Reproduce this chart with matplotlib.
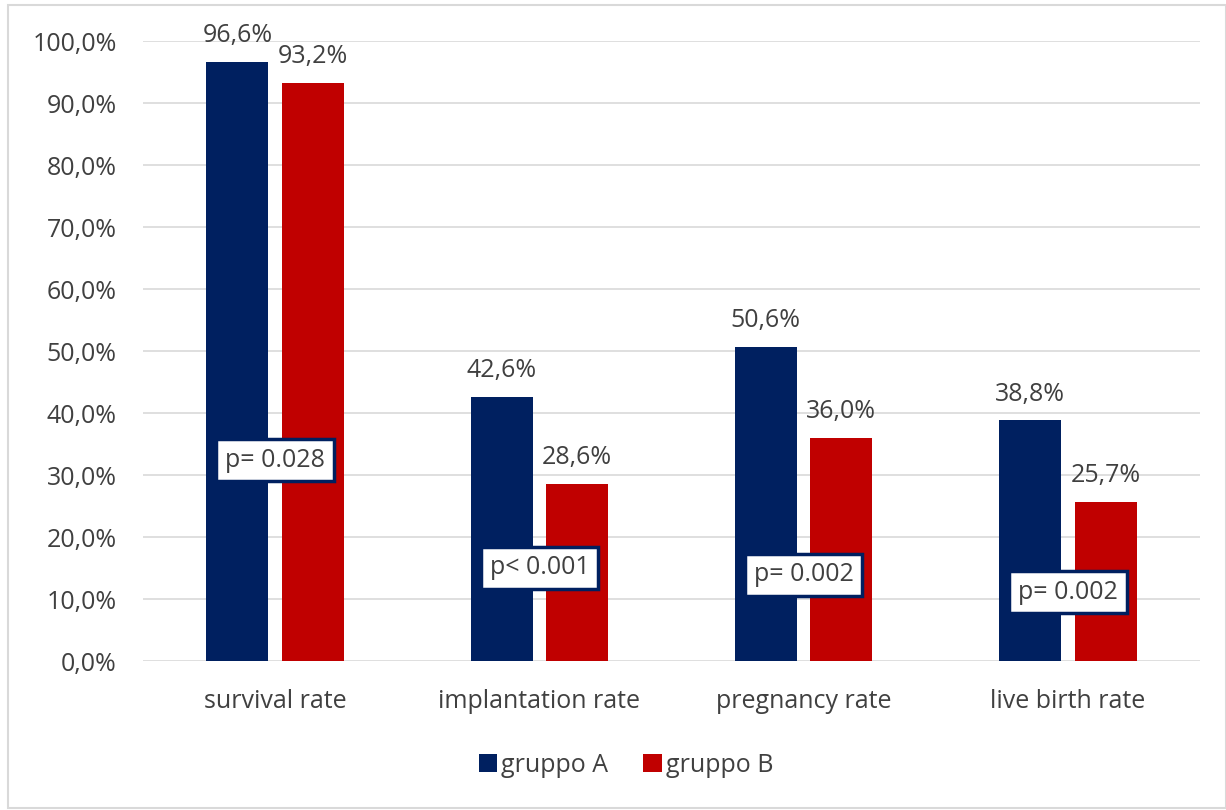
import matplotlib
matplotlib.use("Agg")
import matplotlib.pyplot as plt
from matplotlib.patches import Rectangle

categories = ["survival rate", "implantation rate", "pregnancy rate", "live birth rate"]
gruppo_a = [96.6, 42.6, 50.6, 38.8]
gruppo_b = [93.2, 28.6, 36.0, 25.7]
p_labels = ["p= 0.028", "p< 0.001", "p= 0.002", "p= 0.002"]
p_heights = [32.4, 15.0, 13.9, 11.1]
y_ticks = [0, 10, 20, 30, 40, 50, 60, 70, 80, 90, 100]

NAVY = "#002060"
RED = "#C00000"
TEXT = "#404040"
FS = 18

plt.rcParams["font.family"] = ["Open Sans", "DejaVu Sans"]

fig = plt.figure(figsize=(12.26, 8.10), dpi=100)
ax = fig.add_axes([143 / 1226, 1 - 661 / 810, (1200 - 143) / 1226, (661 - 41) / 810])

# outer frame of the chart area
fig.patches.append(Rectangle((8 / 1226, 2 / 810), 1 - 8 / 1226, 1 - 7 / 810,
                             transform=fig.transFigure, fill=False,
                             edgecolor="#D9D9D9", linewidth=1.5))

x = list(range(len(categories)))
w = 0.235
off = 0.143
bars_a = ax.bar([i - off for i in x], gruppo_a, width=w, color=NAVY, label="gruppo A", zorder=3)
bars_b = ax.bar([i + off for i in x], gruppo_b, width=w, color=RED, label="gruppo B", zorder=3)

def fmt(v):
    return f"{v:.1f}%".replace(".", ",")

for bars, vals in ((bars_a, gruppo_a), (bars_b, gruppo_b)):
    for b, v in zip(bars, vals):
        ax.annotate(fmt(v), (b.get_x() + b.get_width() / 2, v), xytext=(0, 10),
                    textcoords="offset points", ha="center", va="bottom",
                    fontsize=FS, color=TEXT, zorder=5)

for i, (lab, h) in enumerate(zip(p_labels, p_heights)):
    ax.text(i, h, lab, ha="center", va="center", fontsize=FS, color=TEXT, zorder=6,
            bbox=dict(boxstyle="square,pad=0.35", facecolor="white",
                      edgecolor=NAVY, linewidth=2.5))

ax.set_xlim(-0.5, len(categories) - 0.5)
ax.set_ylim(0, 100)
ax.set_yticks(y_ticks)
ax.set_yticklabels([f"{t},0%" for t in y_ticks])
ax.set_xticks(x)
ax.set_xticklabels(categories)
ax.tick_params(axis="both", length=0, labelsize=FS, labelcolor=TEXT)
ax.tick_params(axis="y", pad=19)
ax.tick_params(axis="x", pad=20)
ax.grid(axis="y", color="#D9D9D9", linewidth=1.2, zorder=0)
for s in ax.spines.values():
    s.set_visible(False)

fig.legend(handles=[bars_a, bars_b], labels=["gruppo A", "gruppo B"],
           loc="center", bbox_to_anchor=(626 / 1226, 1 - 765 / 810), ncol=2,
           frameon=False, fontsize=FS, labelcolor=TEXT, handlelength=0.75,
           handleheight=0.75, handletextpad=0.15, columnspacing=1.4)

fig.savefig("out.png", dpi=100)
